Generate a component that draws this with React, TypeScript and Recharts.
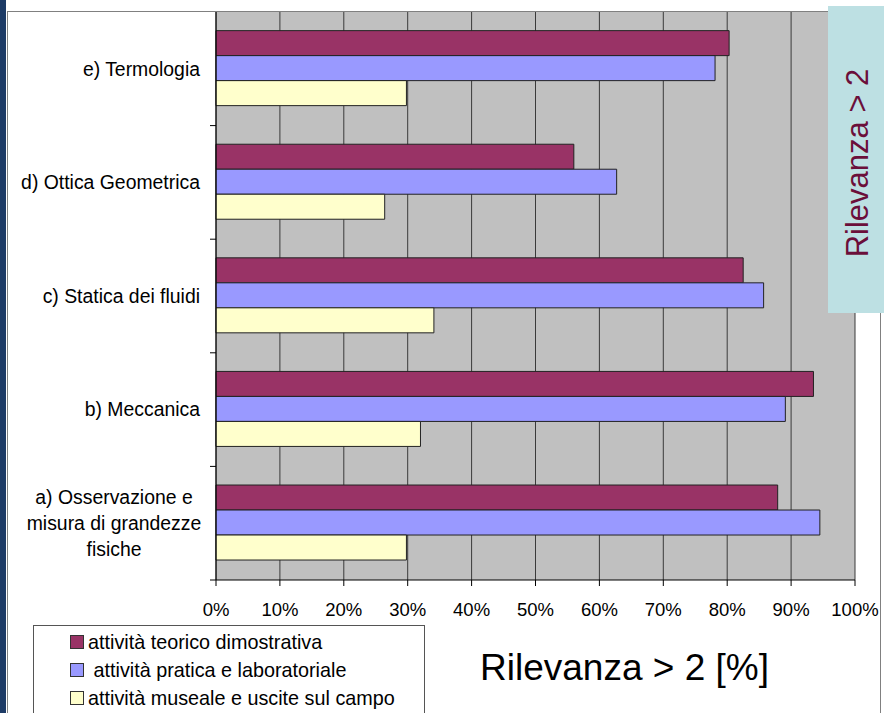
import React from "react";
import { BarChart, Bar, XAxis, YAxis, CartesianGrid } from "recharts";

// categories listed top to bottom, as in the picture
const categories = [
  "e) Termologia",
  "d) Ottica Geometrica",
  "c) Statica dei fluidi",
  "b) Meccanica",
  "a) Osservazione e\nmisura di grandezze\nfisiche",
];

const teorico = [80.3, 56.0, 82.5, 93.5, 87.9];
const pratica = [78.1, 62.7, 85.7, 89.1, 94.5];
const museale = [29.8, 26.4, 34.1, 32.0, 29.8];

const xTicks = [0, 10, 20, 30, 40, 50, 60, 70, 80, 90, 100];

const seriesNames = [
  "attività teorico dimostrativa",
  " attività pratica e laboratoriale",
  "attività museale e uscite sul campo",
];
const seriesColors = ["#993366", "#9999FF", "#FFFFCC"];
const seriesKeys = ["teorico", "pratica", "museale"];

const data = categories.map((name, i) => ({
  name,
  teorico: teorico[i],
  pratica: pratica[i],
  museale: museale[i],
}));

const FONT = "'Liberation Sans', Arial, sans-serif";

const CategoryTick = (props: any) => {
  const { x, y, payload } = props;
  const lines = String(payload.value).split("\n");
  const multi = lines.length > 1;
  const off = payload.offset || 0;
  const tx = multi ? x - 86 : x;
  return (
    <g>
      <line x1={x + 10} x2={x + 16} y1={y + off} y2={y + off} stroke="#000" />
      <text
        x={tx}
        y={y}
        textAnchor={multi ? "middle" : "end"}
        fontSize={19.4}
        fontFamily={FONT}
        fill="#000"
      >
        {lines.map((l, i) => (
          <tspan key={i} x={tx} y={y + (i - (lines.length - 1) / 2) * 26} dy="0.35em">
            {l}
          </tspan>
        ))}
      </text>
    </g>
  );
};

export default function App() {
  return (
    <div
      style={{
        position: "absolute",
        left: 0,
        top: 0,
        width: 884,
        height: 713,
        background: "#fff",
        overflow: "hidden",
        fontFamily: FONT,
      }}
    >
      {/* slide background strip on the left */}
      <div style={{ position: "absolute", left: 0, top: 0, width: 6, height: 713, background: "#1d3b66" }} />
      {/* chart frame */}
      <div
        style={{
          position: "absolute",
          left: 7,
          top: 11,
          width: 874,
          height: 720,
          border: "1px solid #808080",
          boxSizing: "border-box",
          background: "#fff",
        }}
      />

      <div style={{ position: "absolute", left: 0, top: 0 }}>
        <BarChart
          width={884}
          height={713}
          data={data}
          layout="vertical"
          margin={{ top: 12, right: 29, bottom: 103, left: 0 }}
          barCategoryGap="16.4%"
          barGap={0}
        >
          <CartesianGrid horizontal={false} fill="#C0C0C0" fillOpacity={1} stroke="#3a3a3a" />
          <XAxis
            type="number"
            domain={[0, 100]}
            ticks={xTicks}
            tickFormatter={(v) => `${v}%`}
            height={30}
            tickSize={6}
            tickMargin={17}
            stroke="#000"
            tick={{ fill: "#000", fontSize: 18.5, fontFamily: FONT }}
            interval={0}
          />
          <YAxis
            type="category"
            dataKey="name"
            width={216}
            tickSize={6}
            tickMargin={10}
            tickLine={false}
            stroke="#000"
            tick={<CategoryTick />}
            interval={0}
          />
          {seriesKeys.map((k, i) => (
            <Bar
              key={k}
              dataKey={k}
              fill={seriesColors[i]}
              stroke="#222"
              strokeWidth={1}
              isAnimationActive={false}
            />
          ))}
        </BarChart>
      </div>

      {/* legend */}
      <div
        style={{
          position: "absolute",
          left: 33,
          top: 625,
          width: 392,
          height: 110,
          border: "1px solid #555",
          background: "#fff",
          boxSizing: "border-box",
        }}
      >
        {seriesNames.map((n, i) => (
          <div
            key={n}
            style={{
              position: "absolute",
              left: 36,
              top: 6 + i * 28,
              height: 20,
              display: "flex",
              alignItems: "center",
              fontSize: 19.8,
              whiteSpace: "pre",
              color: "#000",
            }}
          >
            <span
              style={{
                display: "inline-block",
                width: 12,
                height: 12,
                background: seriesColors[i],
                border: "1px solid #333",
                marginRight: 4,
              }}
            />
            {n}
          </div>
        ))}
      </div>

      {/* axis title */}
      <div
        style={{
          position: "absolute",
          left: 480,
          top: 648,
          fontSize: 37,
          lineHeight: "40px",
          color: "#000",
          whiteSpace: "nowrap",
        }}
      >
        Rilevanza &gt; 2 [%]
      </div>

      {/* rotated side box */}
      <div
        style={{
          position: "absolute",
          left: 828,
          top: 6,
          width: 56,
          height: 307,
          background: "#BDE0E3",
        }}
      >
        <div
          style={{
            position: "absolute",
            left: 30,
            top: 157,
            transform: "translate(-50%, -50%) rotate(-90deg)",
            fontSize: 31,
            color: "#6B0F3A",
            whiteSpace: "nowrap",
          }}
        >
          Rilevanza &gt; 2
        </div>
      </div>
    </div>
  );
}
